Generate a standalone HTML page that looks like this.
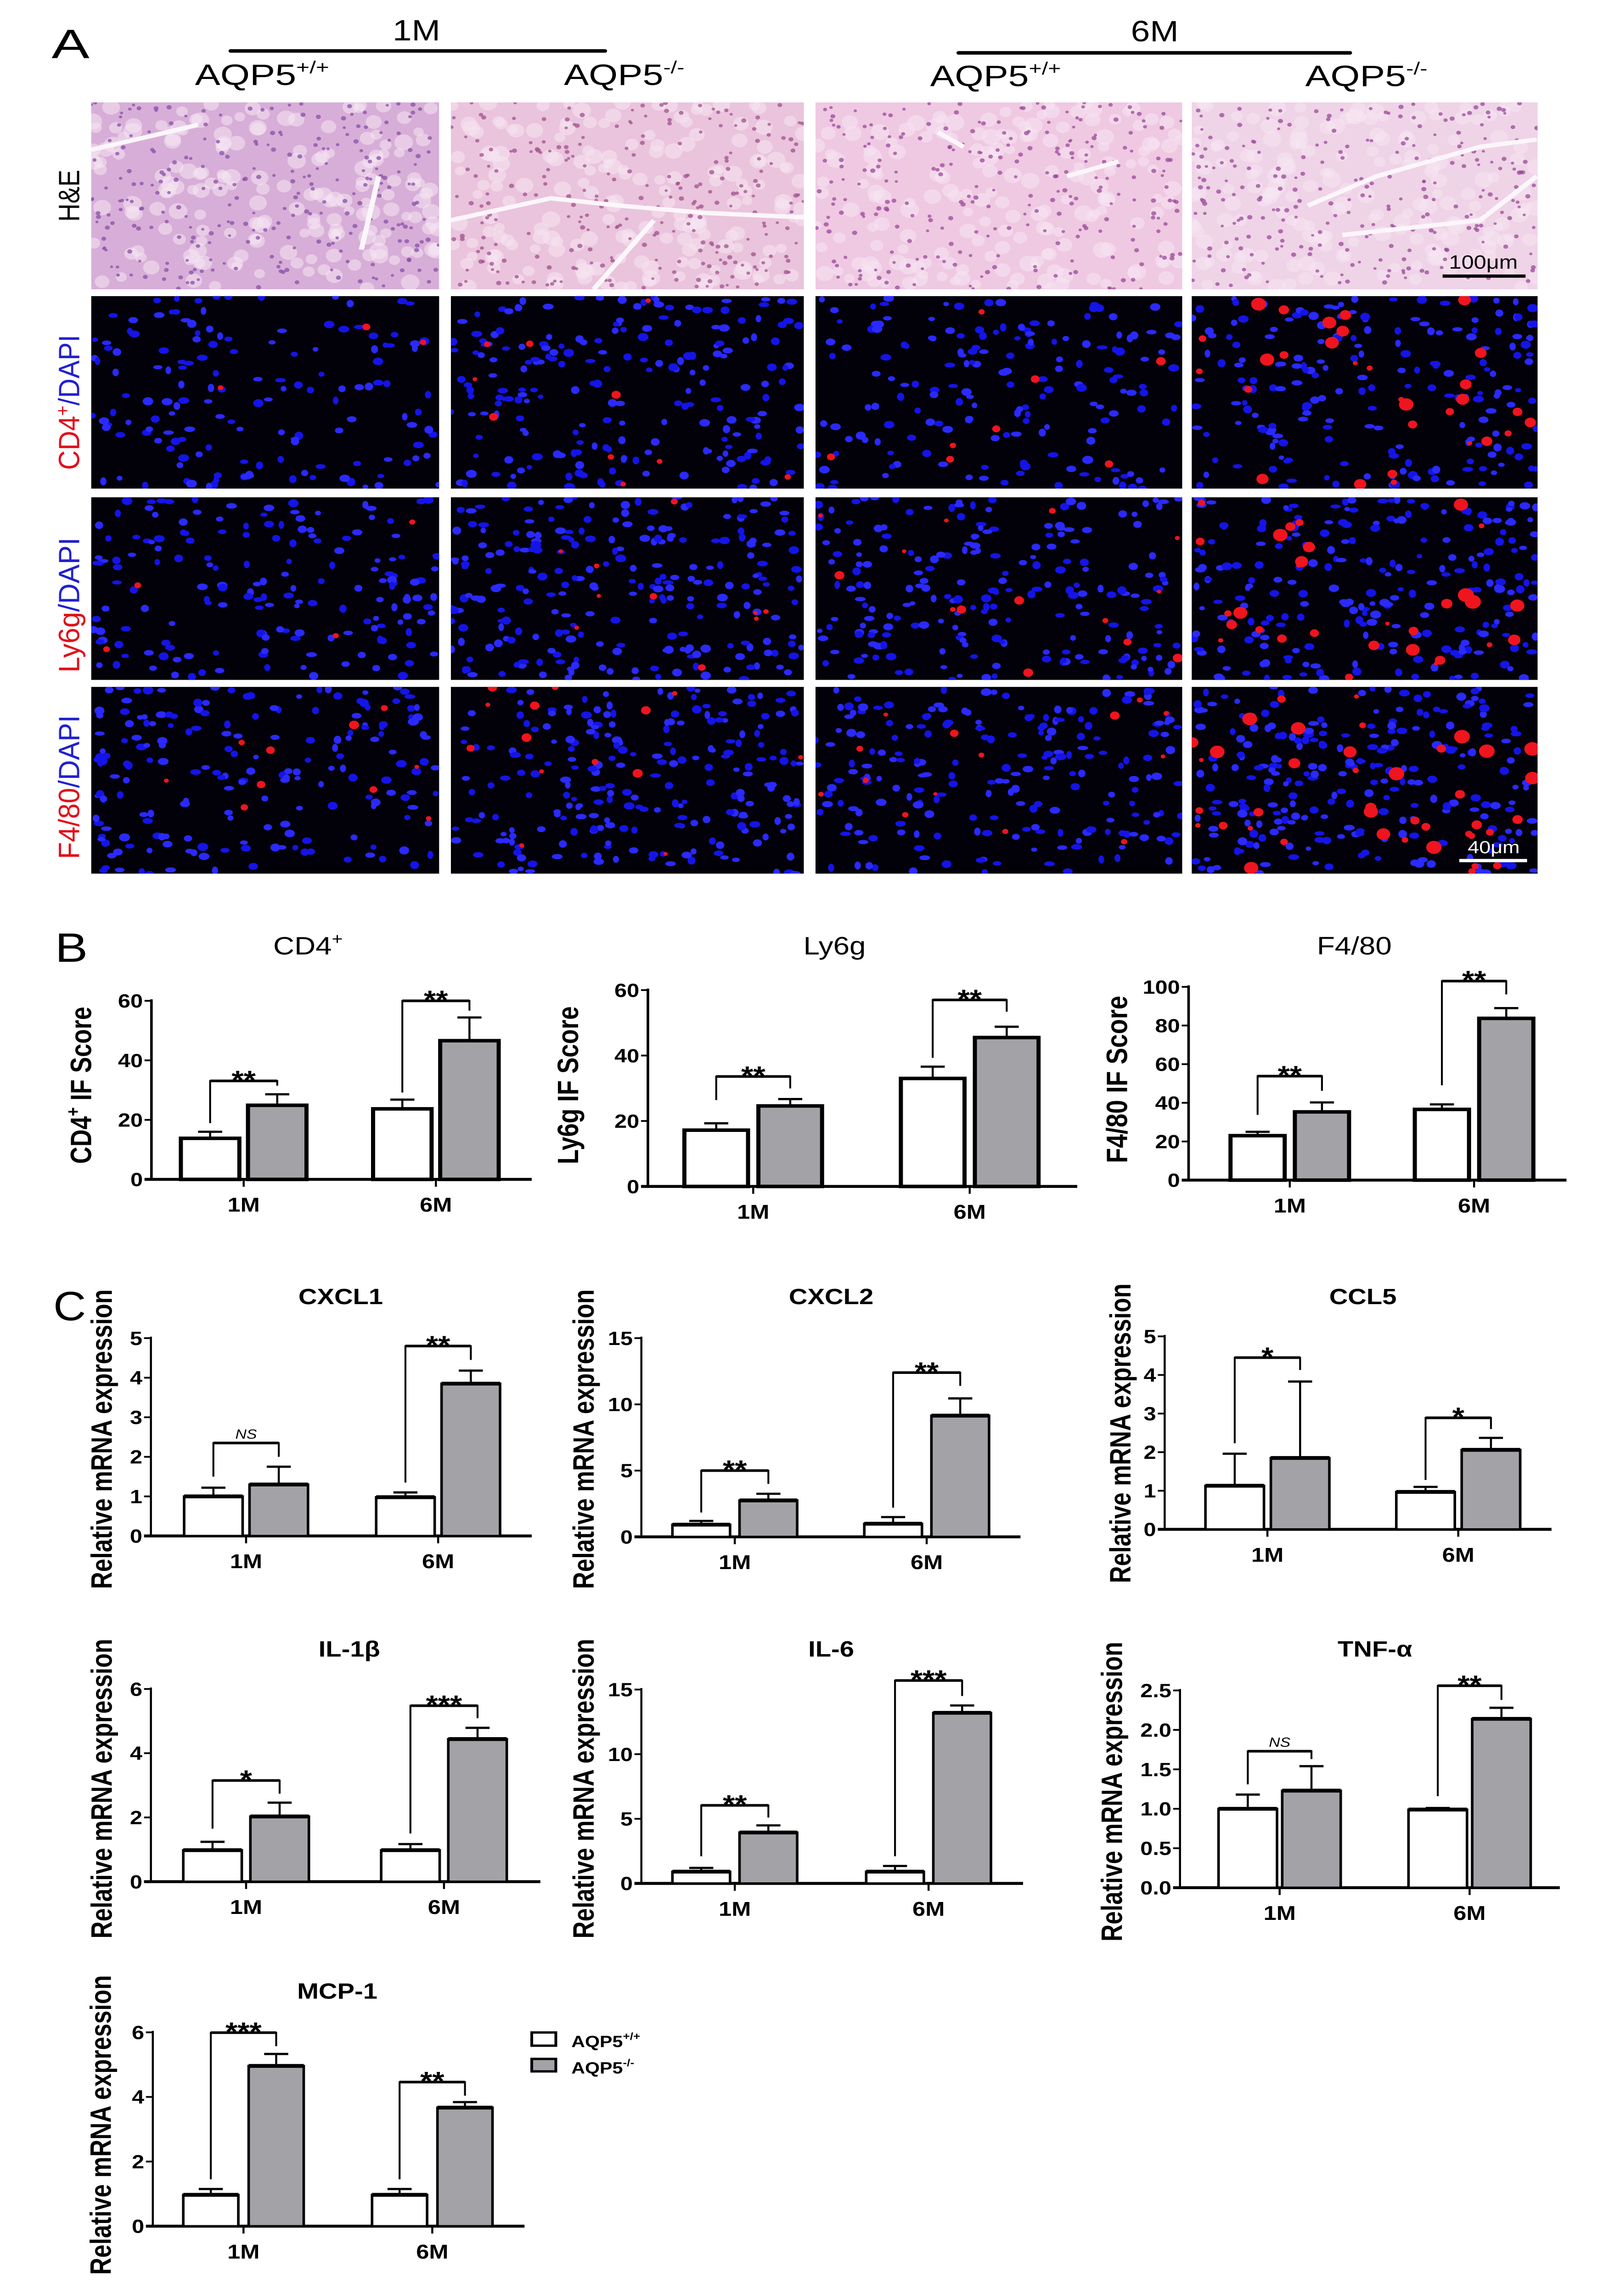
<!DOCTYPE html>
<html><head><meta charset="utf-8"><style>
html,body{margin:0;padding:0;background:#fff;overflow:hidden;width:100vw;height:100vh;}
svg{display:block;position:absolute;left:0;top:0;width:100vw;height:100vh;}
text{font-family:"Liberation Sans",Arial,sans-serif;}
</style></head><body>
<svg id="fig" xmlns="http://www.w3.org/2000/svg" width="3504" height="5859" viewBox="0 0 935 1563.45" preserveAspectRatio="none">
<rect x="0" y="0" width="935" height="1563.45" fill="#fff"/>
<text x="30" y="39.5" font-size="28" textLength="22" lengthAdjust="spacingAndGlyphs">A</text>
<text x="242" y="27.5" font-size="20" text-anchor="middle">1M</text>
<line x1="134" y1="34.7" x2="351.6" y2="34.7" stroke="#000" stroke-width="2.4" stroke-linecap="round"/>
<text x="671" y="28.2" font-size="20" text-anchor="middle">6M</text>
<line x1="557" y1="36" x2="784.5" y2="36" stroke="#000" stroke-width="2.4" stroke-linecap="round"/>
<text x="113.3" y="57.8" font-size="20" textLength="78" lengthAdjust="spacingAndGlyphs">AQP5<tspan font-size="12" dy="-8">+/+</tspan></text>
<text x="327.7" y="57.8" font-size="20" textLength="70" lengthAdjust="spacingAndGlyphs">AQP5<tspan font-size="12" dy="-8">-/-</tspan></text>
<text x="540.5" y="58.7" font-size="20" textLength="76" lengthAdjust="spacingAndGlyphs">AQP5<tspan font-size="12" dy="-8">+/+</tspan></text>
<text x="758.5" y="58.7" font-size="20" textLength="71" lengthAdjust="spacingAndGlyphs">AQP5<tspan font-size="12" dy="-8">-/-</tspan></text>
<text transform="translate(46,151) rotate(-90)" font-size="17" textLength="35.4" lengthAdjust="spacingAndGlyphs">H&amp;E</text>
<text transform="translate(46,320) rotate(-90)" font-size="17" textLength="92" lengthAdjust="spacingAndGlyphs"><tspan fill="#e0101a">CD4</tspan><tspan fill="#e0101a" font-size="11" dy="-6">+</tspan><tspan fill="#2020d0" dy="6">/DAPI</tspan></text>
<text transform="translate(46,458) rotate(-90)" font-size="17" textLength="92" lengthAdjust="spacingAndGlyphs"><tspan fill="#e0101a">Ly6g</tspan><tspan fill="#2020d0">/DAPI</tspan></text>
<text transform="translate(46,585) rotate(-90)" font-size="17" textLength="98" lengthAdjust="spacingAndGlyphs"><tspan fill="#e0101a">F4/80</tspan><tspan fill="#2020d0">/DAPI</tspan></text>
<g id="micro"></g>
<text x="32" y="655" font-size="28" textLength="19" lengthAdjust="spacingAndGlyphs">B</text>
<text x="31" y="899" font-size="28" textLength="19" lengthAdjust="spacingAndGlyphs">C</text>
<g id="charts"></g>
<g>
<rect x="309" y="1384" width="14" height="9" fill="#fff" stroke="#000" stroke-width="1.6"/>
<text x="332" y="1394" font-size="11" font-weight="bold">AQP5<tspan font-size="7" dy="-5">+/+</tspan></text>
<rect x="309" y="1402" width="14" height="8.5" fill="#a3a3a7" stroke="#000" stroke-width="1.6"/>
<text x="332" y="1412" font-size="11" font-weight="bold">AQP5<tspan font-size="7" dy="-5">-/-</tspan></text>
</g>
</svg>
<script>
const NS = "http://www.w3.org/2000/svg";
// ---- chart data ----
const categories = ["1M", "6M"];
const cd4WT = [13.8, 23.7];  const cd4WTsd = [2.2, 3.1];
const cd4KO = [24.9, 46.6];  const cd4KOsd = [3.7, 7.8];
const ly6gWT = [17.2, 33.0]; const ly6gWTsd = [2.1, 3.6];
const ly6gKO = [24.6, 45.5]; const ly6gKOsd = [2.1, 3.3];
const f480WT = [23.0, 36.6]; const f480WTsd = [2.0, 2.6];
const f480KO = [35.3, 83.7]; const f480KOsd = [4.9, 5.3];
const cxcl1WT = [1.0, 0.98]; const cxcl1WTsd = [0.22, 0.12];
const cxcl1KO = [1.3, 3.85]; const cxcl1KOsd = [0.45, 0.33];
const cxcl2WT = [0.92, 0.99]; const cxcl2WTsd = [0.28, 0.5];
const cxcl2KO = [2.75, 9.15]; const cxcl2KOsd = [0.5, 1.3];
const ccl5WT = [1.13, 0.97]; const ccl5WTsd = [0.83, 0.13];
const ccl5KO = [1.85, 2.06]; const ccl5KOsd = [1.98, 0.31];
const il1bWT = [0.98, 0.98]; const il1bWTsd = [0.26, 0.19];
const il1bKO = [2.03, 4.44]; const il1bKOsd = [0.43, 0.35];
const il6WT = [0.91, 0.91];  const il6WTsd = [0.29, 0.44];
const il6KO = [3.94, 13.2];  const il6KOsd = [0.55, 0.57];
const tnfWT = [1.0, 0.99];   const tnfWTsd = [0.18, 0.02];
const tnfKO = [1.23, 2.14];  const tnfKOsd = [0.31, 0.14];
const mcpWT = [0.97, 0.97];  const mcpWTsd = [0.18, 0.18];
const mcpKO = [4.96, 3.67];  const mcpKOsd = [0.37, 0.17];
// significance brackets: [left leg bottom, bracket top, right leg bottom]
const cd4Sig = [[18.9, 33.1, 31.5], [29.2, 60, 56.7]];   const cd4Stars = ["**", "**"];
const ly6gSig = [[26.4, 33.6, 29.95], [39.3, 57, 53.4]]; const ly6gStars = ["**", "**"];
const f480Sig = [[33.8, 53.8, 46.2], [49.1, 103, 96.1]]; const f480Stars = ["**", "**"];
const cxcl1Sig = [[1.5, 2.35, 2.0], [1.35, 4.8, 4.45]];  const cxcl1Stars = ["NS", "**"];
const cxcl2Sig = [[1.84, 5.0, 4.0], [2.2, 12.4, 11.4]];  const cxcl2Stars = ["**", "**"];
const ccl5Sig = [[2.23, 4.45, 4.13], [1.28, 2.89, 2.6]]; const ccl5Stars = ["*", "*"];
const il1bSig = [[1.65, 3.15, 2.74], [1.5, 5.48, 5.09]]; const il1bStars = ["*", "***"];
const il6Sig = [[2.1, 6.04, 5.1], [2.1, 15.7, 14.5]];    const il6Stars = ["**", "***"];
const tnfSig = [[1.31, 1.73, 1.63], [1.16, 2.56, 2.38]]; const tnfStars = ["NS", "**"];
const mcpSig = [[1.45, 5.99, 5.57], [1.45, 4.46, 4.04]]; const mcpStars = ["***", "**"];
const yMaxB = [60, 60, 100];  const yStepB = [20, 20, 20];
const yMaxC = [5, 15, 5, 6, 15, 2.5, 6]; const yStepC = [1, 5, 1, 2, 5, 0.5, 2];

const charts = document.getElementById("charts");
function mk(tag, parent) { const e = document.createElementNS(NS, tag); parent.appendChild(e); return e; }
function attr(e, o) { for (const k in o) e.setAttribute(k, o[k]); return e; }

function drawChart(name, L, wt, wtSd, ko, koSd, sig, stars, yMax, yStep, isB) {
  const g = mk("g", charts);
  
  
  const y = v => L.y0 - v / yMax * (L.y0 - L.yt);
  const bw = isB ? 2.4 : 1.5;
  const ya = attr(mk("line", g), {x1: L.ax, y1: L.yt - 1, x2: L.ax, y2: L.y0, stroke: "#000", "stroke-width": isB ? 1.5 : 1.2});
  
  
  const xa = attr(mk("line", g), {x1: L.ax - 4, y1: L.y0, x2: L.ar, y2: L.y0, stroke: "#000", "stroke-width": 2});
  
  
  for (let v = 0; v <= yMax + 1e-9; v += yStep) {
    const tk = attr(mk("line", g), {x1: L.ax - 4, y1: y(v), x2: L.ax, y2: y(v), stroke: "#000", "stroke-width": 1.2});
    
    
    const tl = attr(mk("text", g), {x: L.ax - 5, y: y(v) + 4.6, "font-size": 13, "font-weight": "bold", "text-anchor": "end"});
    tl.textContent = (yStep < 1) ? v.toFixed(1) : String(Math.round(v));
    
    
  }
  for (let i = 0; i < categories.length; i++) {
    const cx = L.c[i];
    const ct = attr(mk("line", g), {x1: cx, y1: L.y0, x2: cx, y2: L.y0 + 5, stroke: "#000", "stroke-width": 1.2});
    
    
    const cl = attr(mk("text", g), {x: cx, y: L.y0 + 22, "font-size": 13.5, "font-weight": "bold", "text-anchor": "middle"});
    cl.textContent = categories[i];
    
    
    const series = [[wt[i], wtSd[i], cx - L.d, "#fff", "wt"], [ko[i], koSd[i], cx + L.d, "#a3a3a7", "ko"]];
    for (const [m, sd, bx, fill, key] of series) {
      const eb = attr(mk("line", g), {x1: bx, y1: y(m), x2: bx, y2: y(m + sd), stroke: "#000", "stroke-width": 1.2});
      
      
      const cap = attr(mk("line", g), {x1: bx - 7, y1: y(m + sd), x2: bx + 7, y2: y(m + sd), stroke: "#000", "stroke-width": 1.5});
      
      
      const r = attr(mk("rect", g), {x: bx - L.w / 2, y: y(m), width: L.w, height: L.y0 - y(m), fill: fill, stroke: "#000", "stroke-width": bw});
      
      
      if (!isB) {
        const tp = attr(mk("line", g), {x1: bx - L.w / 2, y1: y(m), x2: bx + L.w / 2, y2: y(m), stroke: "#000", "stroke-width": 2.6});
        
        
      }
    }
    const s = sig[i];
    const xl = cx - L.d, xr = cx + L.d, yt = y(s[1]);
    const br = attr(mk("path", g), {d: `M${xl},${y(s[0])}V${yt}H${xr}V${y(s[2])}`, fill: "none", stroke: "#000", "stroke-width": 1.1});
    
    
    const brt = attr(mk("line", g), {x1: xl, y1: yt, x2: xr, y2: yt, stroke: "#000", "stroke-width": 1.8});
    
    
    const st = mk("text", g);
    if (stars[i] === "NS") attr(st, {x: (xl + xr) / 2, y: yt - 3, "font-size": 9, "font-style": "italic", "text-anchor": "middle"});
    else attr(st, {x: (xl + xr) / 2, y: yt + 5.5, "font-size": 18, "font-weight": "bold", "text-anchor": "middle"});
    st.textContent = stars[i];
    
    
  }
  const t = attr(mk("text", g), {x: L.tx, y: L.ty, "text-anchor": "middle", "font-size": isB ? 17 : 15, "font-weight": isB ? "normal" : "bold"});
  t.innerHTML = L.title;
  
  
  const yl = attr(mk("text", g), {transform: `translate(${L.lx},${L.ly}) rotate(-90)`, "text-anchor": "middle", "font-size": 17, "font-weight": "bold", textLength: L.ll, lengthAdjust: "spacingAndGlyphs"});
  yl.innerHTML = L.ylab;
  
  
}
const REL = "Relative mRNA expression";
drawChart("cd4", {ax: 88, ar: 309, y0: 803.1, yt: 681.5, c: [141.6, 253.3], d: 19.5, w: 34, tx: 179, ty: 650, title: 'CD4<tspan font-size="11" dy="-7">+</tspan>', lx: 53, ly: 739, ll: 107, ylab: 'CD4<tspan font-size="11" dy="-7">+</tspan><tspan dy="7"> IF Score</tspan>'}, cd4WT, cd4WTsd, cd4KO, cd4KOsd, cd4Sig, cd4Stars, yMaxB[0], yStepB[0], true);
drawChart("ly6g", {ax: 376.5, ar: 626, y0: 807.9, yt: 674.2, c: [437.7, 563.5], d: 21.5, w: 37, tx: 485, ty: 650, title: "Ly6g", lx: 336, ly: 739, ll: 107.5, ylab: "Ly6g IF Score"}, ly6gWT, ly6gWTsd, ly6gKO, ly6gKOsd, ly6gSig, ly6gStars, yMaxB[1], yStepB[1], true);
drawChart("f480", {ax: 690.7, ar: 910.3, y0: 803.6, yt: 672, c: [749.5, 856.6], d: 18.7, w: 31.5, tx: 787, ty: 650, title: "F4/80", lx: 655, ly: 735, ll: 114, ylab: "F4/80  IF Score"}, f480WT, f480WTsd, f480KO, f480KOsd, f480Sig, f480Stars, yMaxB[2], yStepB[2], true);
drawChart("cxcl1", {ax: 87.7, ar: 309, y0: 1045.9, yt: 911.2, c: [143, 254.6], d: 19, w: 34, tx: 198, ty: 888, title: "CXCL1", lx: 65, ly: 980, ll: 204, ylab: REL}, cxcl1WT, cxcl1WTsd, cxcl1KO, cxcl1KOsd, cxcl1Sig, cxcl1Stars, yMaxC[0], yStepC[0], false);
drawChart("cxcl2", {ax: 372.7, ar: 593, y0: 1046.5, yt: 911.2, c: [427, 538.5], d: 19.5, w: 33.5, tx: 483, ty: 888, title: "CXCL2", lx: 345, ly: 980, ll: 204, ylab: REL}, cxcl2WT, cxcl2WTsd, cxcl2KO, cxcl2KOsd, cxcl2Sig, cxcl2Stars, yMaxC[1], yStepC[1], false);
drawChart("ccl5", {ax: 676.8, ar: 901.6, y0: 1041.4, yt: 910, c: [736.5, 847.4], d: 19, w: 34, tx: 792, ty: 888, title: "CCL5", lx: 657, ly: 976, ll: 204, ylab: REL}, ccl5WT, ccl5WTsd, ccl5KO, ccl5KOsd, ccl5Sig, ccl5Stars, yMaxC[2], yStepC[2], false);
drawChart("il1b", {ax: 87.7, ar: 314, y0: 1281.3, yt: 1150.1, c: [143, 258], d: 19.5, w: 34, tx: 203, ty: 1128, title: "IL-1β", lx: 65, ly: 1218, ll: 204, ylab: REL}, il1bWT, il1bWTsd, il1bKO, il1bKOsd, il1bSig, il1bStars, yMaxC[3], yStepC[3], false);
drawChart("il6", {ax: 372.7, ar: 594.5, y0: 1282.5, yt: 1150.5, c: [427, 539.6], d: 19.5, w: 33.5, tx: 483, ty: 1128, title: "IL-6", lx: 345, ly: 1218, ll: 204, ylab: REL}, il6WT, il6WTsd, il6KO, il6KOsd, il6Sig, il6Stars, yMaxC[4], yStepC[4], false);
drawChart("tnf", {ax: 685.7, ar: 906.4, y0: 1285.4, yt: 1151.1, c: [743.6, 854], d: 18.5, w: 34, tx: 799, ty: 1128, title: "TNF-α", lx: 652, ly: 1220, ll: 204, ylab: REL}, tnfWT, tnfWTsd, tnfKO, tnfKOsd, tnfSig, tnfStars, yMaxC[5], yStepC[5], false);
drawChart("mcp1", {ax: 88.8, ar: 304.8, y0: 1515.9, yt: 1383.9, c: [141.5, 251.2], d: 19, w: 32, tx: 196, ty: 1361, title: "MCP-1", lx: 64.5, ly: 1447, ll: 204, ylab: REL}, mcpWT, mcpWTsd, mcpKO, mcpKOsd, mcpSig, mcpStars, yMaxC[6], yStepC[6], false);

// ---- micrographs (decorative texture) ----
const micro = document.getElementById("micro");
let seed = 12345;
function rnd() { seed = (seed * 1103515245 + 12345) % 2147483648; return seed / 2147483648; }
const colsX = [[53, 255.2], [262, 467.1], [473.9, 687], [692.5, 893.5]];
const rowsY = [[69.7, 197], [201.6, 332.7], [338.6, 463], [467.7, 594.9]];
const heBase = ["#d7aed8", "#eac3dc", "#efc8e2", "#efd3e7"];
const heDot = ["#8a4fa8", "#a0508f", "#9a4a9a", "#9a4a9a"];
const blueN = [[0, 0, 0, 0], [150, 210, 170, 200], [170, 240, 210, 230], [190, 230, 210, 250]];
const redN = [[0, 0, 0, 0], [3, 10, 8, 30], [4, 10, 14, 30], [10, 14, 14, 40]];
const rowNames = ["he", "cd4", "ly6g", "f480"];
for (let r = 0; r < 4; r++) for (let c = 0; c < 4; c++) {
  const [x0, x1] = colsX[c], [y0, y1] = rowsY[r];
  const w = x1 - x0, h = y1 - y0;
  const g = mk("g", micro);
  
  
  const cp = mk("clipPath", g); cp.setAttribute("id", "cp" + r + c);
  attr(mk("rect", cp), {x: x0, y: y0, width: w, height: h});
  g.setAttribute("clip-path", `url(#cp${r}${c})`);
  if (r === 0) {
    attr(mk("rect", g), {x: x0, y: y0, width: w, height: h, fill: heBase[c]});
    for (let k = 0; k < 180; k++) attr(mk("circle", g), {cx: x0 + rnd() * w, cy: y0 + rnd() * h, r: 3 + rnd() * 2.5, fill: "#f6e6f2", opacity: 0.55});
    for (let k = 0; k < 260; k++) attr(mk("circle", g), {cx: x0 + rnd() * w, cy: y0 + rnd() * h, r: 0.9 + rnd() * 0.6, fill: heDot[c], opacity: 0.75});
    const streaks = [["M53,102 L90,92 L115,85", "M210,170 L220,120"], ["M262,150 L320,135 L360,140 L410,145 L467,148", "M380,150 L345,197"], ["M545,90 L560,100", "M620,120 L650,110"], ["M760,140 L800,120 L860,100 L893,95", "M780,160 L860,150 L893,120"]];
    for (const d of streaks[c]) attr(mk("path", g), {d: d, stroke: "#fbf6fa", "stroke-width": 3, fill: "none"});
  } else {
    attr(mk("rect", g), {x: x0, y: y0, width: w, height: h, fill: "#020008"});
    for (let k = 0; k < blueN[r][c]; k++) attr(mk("ellipse", g), {cx: x0 + rnd() * w, cy: y0 + rnd() * h, rx: 1.6 + rnd() * 1.6, ry: 1.4 + rnd() * 1.4, fill: rnd() < 0.5 ? "#1414e8" : "#2a2aff"});
    for (let k = 0; k < redN[r][c]; k++) attr(mk("circle", g), {cx: x0 + rnd() * w, cy: y0 + rnd() * h, r: 1.2 + rnd() * (c === 3 ? 3.5 : 1.8), fill: "#f0141e"});
  }
}
const sb1 = attr(mk("line", micro), {x1: 838.3, y1: 188, x2: 886.5, y2: 188, stroke: "#000", "stroke-width": 2.2});


const sbt1 = attr(mk("text", micro), {x: 862, y: 183, "font-size": 13, "text-anchor": "middle"});
sbt1.textContent = "100μm";


const sb2 = attr(mk("line", micro), {x1: 848, y1: 586, x2: 887.4, y2: 586, stroke: "#fff", "stroke-width": 2.2});


const sbt2 = attr(mk("text", micro), {x: 868, y: 581, "font-size": 12, fill: "#fff", "text-anchor": "middle"});
sbt2.textContent = "40μm";


</script>
</body></html>
